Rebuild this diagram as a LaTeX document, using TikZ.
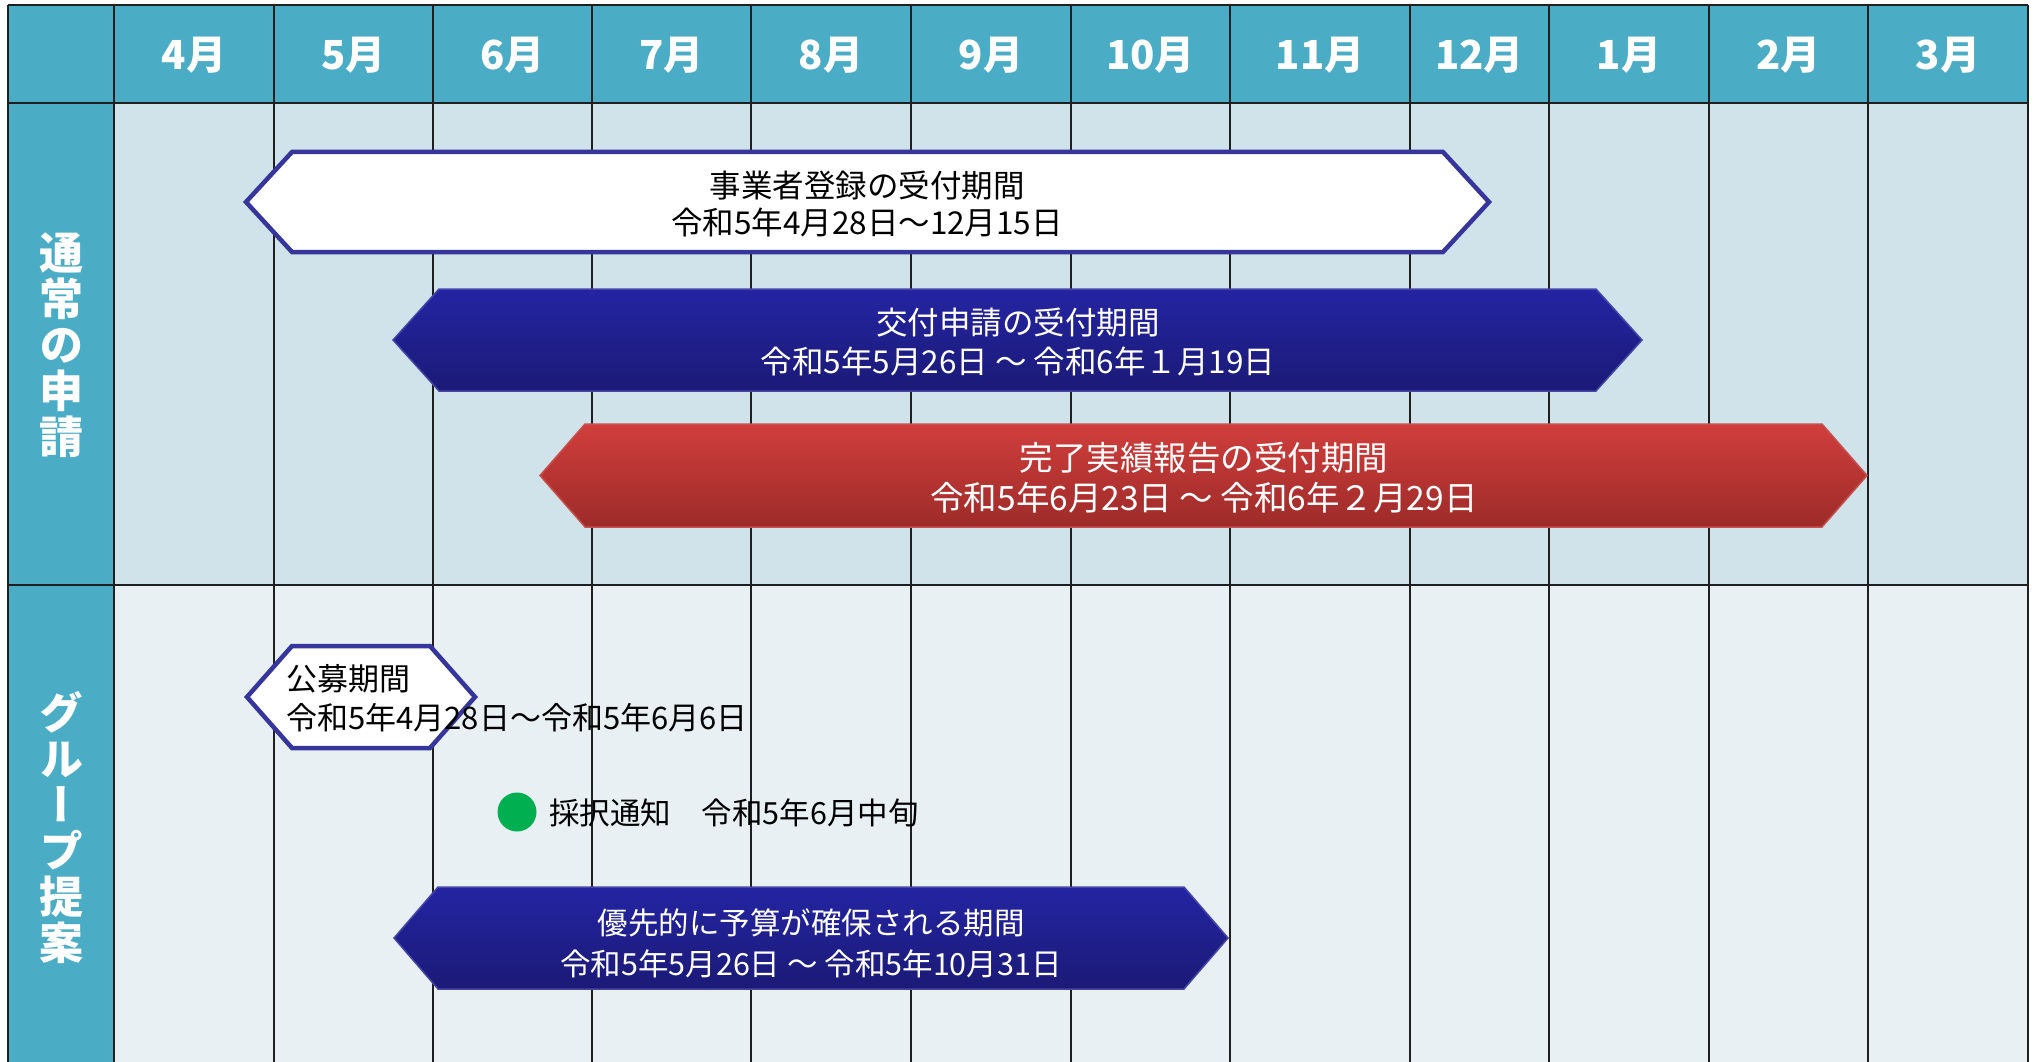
\documentclass[tikz,border=0pt]{standalone}
\usepackage{fontspec}
\setmainfont{Noto Sans CJK JP}
\newfontfamily\jpv[RawFeature=+vert]{Noto Sans CJK JP}
\definecolor{hdrteal}{HTML}{4BACC6}
\definecolor{rowone}{HTML}{D0E3EA}
\definecolor{rowtwo}{HTML}{E8F0F4}
\definecolor{outlineblue}{HTML}{35359B}
\definecolor{navytop}{HTML}{2424A3}
\definecolor{navybot}{HTML}{1B1A76}
\definecolor{navyedge}{HTML}{4646A8}
\definecolor{redtop}{HTML}{D03E3C}
\definecolor{redbot}{HTML}{9D2B29}
\definecolor{rededge}{HTML}{C8504E}
\definecolor{dotgreen}{HTML}{00B050}
\newcommand\hexshape[6]{%
  \path[#1] (#2,{(#4+#5)/2}) -- ({#2+#6},#4) -- ({#3-#6},#4) -- (#3,{(#4+#5)/2})
    -- ({#3-#6},#5) -- ({#2+#6},#5) -- cycle;}
\tikzset{
  gridline/.style={draw=black!88, line width=1.5pt},
  monthlabel/.style={text=white, inner sep=0pt, font=\bfseries\fontsize{40}{40}\selectfont},
  sidelabel/.style={text=white, inner sep=0pt, align=center, font=\jpv\bfseries\fontsize{44}{46}\selectfont},
  whitehex/.style={fill=white, draw=outlineblue, line width=4.5pt, line join=miter},
  navyhex/.style={top color=navytop, bottom color=navybot, draw=navyedge, line width=1.5pt},
  redhex/.style={top color=redtop, bottom color=redbot, draw=rededge, line width=1.5pt},
  darktext/.style={text=black, inner sep=0pt, align=center},
  lighttext/.style={text=white, inner sep=0pt, align=center},
}
\begin{document}
\begin{tikzpicture}[x=1pt,y=-1pt]
\useasboundingbox (0,0) rectangle (2035,1062);
\fill[white] (0,0) rectangle (2035,1062);
% backgrounds
\fill[hdrteal] (8,5) rectangle (2028,103);
\fill[hdrteal] (8,103) rectangle (114,1062);
\fill[rowone] (114,103) rectangle (2028,585);
\fill[rowtwo] (114,585) rectangle (2028,1062);
% grid
\foreach \gx in {8,114,274,433,592,751,911,1071,1230,1410,1549,1709,1868,2028}
  \draw[gridline] (\gx,5) -- (\gx,1062);
\foreach \gy in {5,103,585}
  \draw[gridline] (8,\gy) -- (2028,\gy);
% months
\foreach \mx/\mt [count=\mi] in {194/4月,353.5/5月,512.5/6月,671.5/7月,831/8月,991/9月,1150.5/10月,1320/11月,1479.5/12月,1629/1月,1788.5/2月,1948/3月}
  \node[monthlabel] (m\mi) at (\mx,55) {\mt};
% side labels
\node[sidelabel] (regular) at (61,345) {通\\常\\の\\申\\請};
\node[sidelabel] (group) at (61,828) {グ\\ル\\ー\\プ\\提\\案};
% bars
\hexshape{whitehex}{246}{1489}{152}{252}{46}
\node[darktext, font=\fontsize{31.5}{37}\selectfont] (reg) at (867,204) {事業者登録の受付期間\\令和5年4月28日～12月15日};
\hexshape{navyhex}{393}{1642}{289}{391}{46}
\node[lighttext, font=\fontsize{31.5}{39}\selectfont] (apply) at (1018,342) {交付申請の受付期間\\令和5年5月26日 ～ 令和6年１月19日};
\hexshape{redhex}{540}{1867}{424}{527}{45}
\node[lighttext, font=\fontsize{33.5}{40}\selectfont] (report) at (1204,478) {完了実績報告の受付期間\\令和5年6月23日 ～ 令和6年２月29日};
\hexshape{whitehex}{247}{475}{646}{748}{45}
\node[darktext, align=left, anchor=west, font=\fontsize{31}{39}\selectfont] (boshu) at (286,698) {公募期間\\令和5年4月28日～令和5年6月6日};
\node[circle, fill=dotgreen, minimum size=39pt, inner sep=0pt] (dot) at (517,812) {};
\node[darktext, anchor=west, font=\fontsize{30.5}{36}\selectfont] (saitaku) at (549,813) {採択通知　令和5年6月中旬};
\hexshape{navyhex}{394}{1228}{887}{989}{44}
\node[lighttext, font=\fontsize{30.5}{41}\selectfont] (priority) at (811,943) {優先的に予算が確保される期間\\令和5年5月26日 ～ 令和5年10月31日};
\end{tikzpicture}
\end{document}
